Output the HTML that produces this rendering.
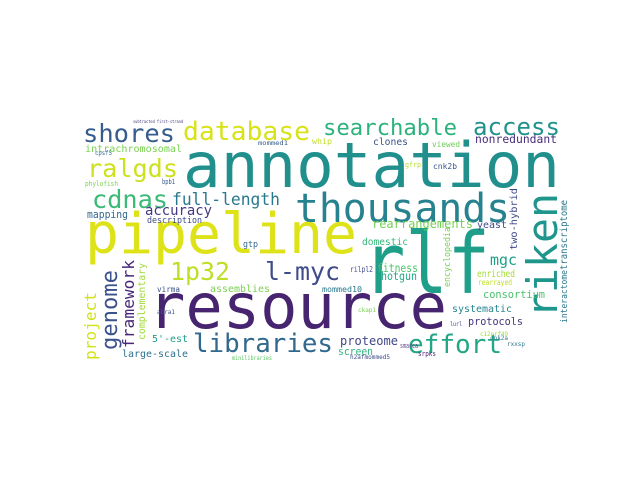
<!DOCTYPE html>
<html><head><meta charset="utf-8"><style>
html,body{margin:0;padding:0;background:#fff;}
svg{display:block;}
text{font-family:"DejaVu Sans Mono","Liberation Mono",monospace;}
</style></head><body>
<svg width="640" height="480" viewBox="0 0 640 480">
<rect width="640" height="480" fill="#fff"/>
<g id="words"></g>
</svg>
<script>
const words = ["annotation","pipeline","resource","rlf","riken","thousands","shores","database","searchable","access","ralgds","cdnas","full-length","1p32","l-myc","libraries","effort","genome","framework","project","complementary","two-hybrid","encyclopedia","transcriptome","interactome","mgc","accuracy","mapping","description","intrachromosomal","clones","nonredundant","viewed","whip","cnk2b","rearrangements","yeast","domestic","gtp","fitness","shotgun","enriched","rearrayed","consortium","systematic","protocols","proteome","screen","large-scale","5'-est","assemblies","virma","mommed10","rilpl2","bpb1","gfrp","srpks","smarca","cnk2a","rxxsp","lurl","ckap1","abra1","c12orf49","subtracted first-strand","phylofish","cpsf5","mommed1","minilibraries","h2afmommed5"];
const xs = [183,85,148,363,557,295,83,183,323,473,87,92,172,170,265,193,408,117,134,96,145,517,450,567,567,490,145,87,147,85,373,475,432,312,433,372,477,362,243,377,375,477,478,483,452,468,340,338,122,152,210,157,322,350,162,405,418,400,490,507,450,358,157,480,133,85,95,258,232,350];
const ys = [187,253,328,293,318,222,142,140,135,135,177,208,205,280,280,352,353,350,348,360,340,250,287,270,323,265,215,218,223,152,145,143,147,144,169,228,228,245,247,272,280,277,285,298,312,325,345,355,357,342,292,292,292,272,184,167,356,348,340,346,326,312,314,336,123,186,155,145,360,359];
const sizes = [62,56,62,85,42,40,25,26,22,24,25,25,16.5,25,25,26,26,22,16,16,9.5,10,8.5,10,9,15,14,11,8.5,10,10,11.5,8,8,8,12,10,10,9,11.5,11.5,10,7.5,10.5,10,10.5,12,11,10,10,10,7.5,7.5,7.5,7,7,7,7,6,6,6,6,6,6,4,7,6,6,6,6];
const lens = [377,272,299,127,125,215,92,127,134,87,91,76,108,60,75,140,94,80,88,68,77,62,60,70,53,27,67,41,55,97,35,82,28,20,24,101,30,46,15,41,42,38,34,62,60,55,58,35,66,36,60,23,40,23,13,16,18,18,18,18,12,18,18,28,50,33,17,30,40,40];
const rot = [0,0,0,0,1,0,0,0,0,0,0,0,0,0,0,0,0,1,1,1,1,1,1,1,1,0,0,0,0,0,0,0,0,0,0,0,0,0,0,0,0,0,0,0,0,0,0,0,0,0,0,0,0,0,0,0,0,0,0,0,0,0,0,0,0,0,0,0,0,0];
const colors = ["#21908d","#dde318","#46246f","#1f9e89","#1f968b","#26828e","#365c8d","#d8e219","#2db27d","#20928c","#cde11d","#3aba76","#2a788e","#bddf26","#3e4a89","#31688e","#22a785","#3b528b","#482878","#d2e21b","#a0da39","#3e4a89","#7ad151","#2a788e","#2a788e","#1fa187","#443983","#31688e","#3e4a89","#7ad151","#3b528b","#472c7a","#6ccd5a","#c2df23","#39568c","#75d054","#3e4a89","#35b779","#31688e","#4ac16d","#22a785","#a5db36","#bddf26","#4ac16d","#25858e","#46337e","#404688","#2eb37c","#2c728e","#1f9e89","#7ad151","#3b528b","#2a788e","#3e4a89","#365c8d","#b5de2b","#481f70","#5d3e8a","#2a788e","#2a788e","#404688","#7ad151","#3b528b","#a0da39","#46337e","#7ad151","#31688e","#365c8d","#5ec962","#3e4a89"];
const g = document.getElementById('words');
const NS = 'http://www.w3.org/2000/svg';
for (let i = 0; i < words.length; i++) {
  const t = document.createElementNS(NS, 'text');
  t.setAttribute('x', xs[i]);
  t.setAttribute('y', ys[i]);
  t.setAttribute('font-size', sizes[i]);
  t.setAttribute('fill', colors[i]);
  t.setAttribute('textLength', lens[i]);
  t.setAttribute('lengthAdjust', 'spacingAndGlyphs');
  if (rot[i]) t.setAttribute('transform', 'rotate(-90 ' + xs[i] + ' ' + ys[i] + ')');
  t.textContent = words[i];
  
  
  g.appendChild(t);
}
</script>
</body></html>
